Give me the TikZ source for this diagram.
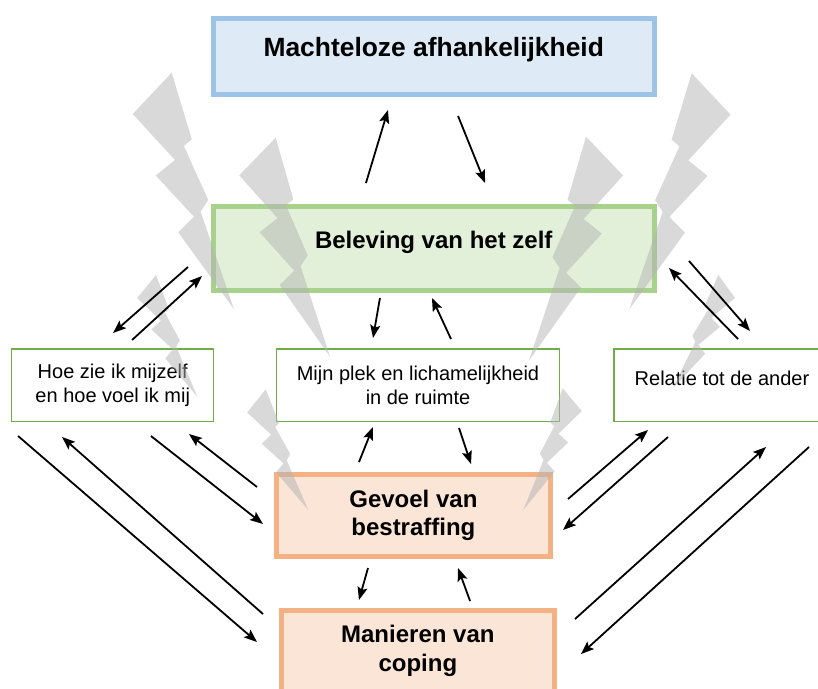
\documentclass[tikz,border=0pt]{standalone}
\usepackage{fontspec}
\setmainfont{Liberation Sans}
\usepackage{xcolor}
\usepackage{tikz}
\usetikzlibrary{arrows.meta}

\definecolor{topline}{HTML}{9DC3E6}
\definecolor{topfill}{HTML}{DEEBF7}
\definecolor{zelfline}{HTML}{A9D18E}
\definecolor{zelffill}{HTML}{E2F0D9}
\definecolor{aspectline}{HTML}{70AD47}
\definecolor{copeline}{HTML}{F4B183}
\definecolor{copefill}{HTML}{FBE5D6}
\definecolor{boltgray}{HTML}{B3B3B3}

\tikzset{
  pics/bolt/.style={code={
    \fill[boltgray, fill opacity=0.5] (0,0) -- (1,28.4) -- (-2.8,30.2) -- (1.2,54.1) -- (-3,57.9) -- (0,100)
      -- (-14,63.8) -- (-6.2,59.2) -- (-17,39) -- (-7.8,34.8) -- (-19.7,12.3) -- cycle;
  }}
}

\begin{document}
\begin{tikzpicture}[x=1pt, y=-1pt,
  bigbox/.style={rectangle, draw, line width=5pt, outer sep=0pt, align=center, font=\fontsize{24}{29}\selectfont\bfseries},
  smallbox/.style={rectangle, draw=aspectline, line width=1.3pt, fill=white, outer sep=0pt, align=center, minimum height=72.3pt, font=\fontsize{20}{24}\selectfont},
  arrow/.style={-{Stealth[length=13pt,width=10pt,inset=2.5pt]}, line width=1.8pt}
]
\useasboundingbox (0,0) rectangle (818,688);
\clip (0,0) rectangle (818,688);

% Top
\node[bigbox, draw=topline, fill=topfill, minimum width=441.5pt, minimum height=76.5pt, text height=18pt, text depth=18pt, font=\fontsize{26.4}{32}\selectfont\bfseries] (macht) at (433.75,56.25) {Machteloze afhankelijkheid};

% Self
\node[bigbox, draw=zelfline, fill=zelffill, minimum width=441.5pt, minimum height=84pt, text height=17pt, text depth=17pt] (beleving) at (433.75,248.3) {Beleving van het zelf};

% Aspects
\node[smallbox, minimum width=202pt] (zelfbeeld) at (112.75,385.15) {Hoe zie ik mijzelf\\en hoe voel ik mij};
\node[smallbox, minimum width=282.6pt] (plek) at (418,385.15) {Mijn plek en lichamelijkheid\\in de ruimte};
\node[smallbox, minimum width=216pt, text height=15pt, text depth=15pt] (relatie) at (722,385.15) {Relatie tot de ander};

% Punishment and coping
\node[bigbox, draw=copeline, fill=copefill, minimum width=274.2pt, minimum height=81.6pt, font=\fontsize{24}{28.5}\selectfont\bfseries] (bestraffing) at (413.4,515.5) {Gevoel van\\bestraffing};
\node[bigbox, draw=copeline, fill=copefill, minimum width=273.3pt, minimum height=81.7pt] (coping) at (417.85,651.15) {Manieren van\\coping};

% Lightning
\pic[rotate=14.75, scale=2.447] at (171.7,72.7) {bolt};
\pic[rotate=13.93, scale=2.256] at (275.7,137.7) {bolt};
\pic[rotate=18.74, scale=1.285] at (156,275) {bolt};
\pic[rotate=19.44, scale=1.28] at (265.7,389.3) {bolt};
\pic[rotate=-14.81, xscale=-1, scale=2.441] at (691.7,73.3) {bolt};
\pic[rotate=-14.3, xscale=-1, scale=2.31] at (586,136.7) {bolt};
\pic[rotate=-21.9, xscale=-1, scale=1.221] at (718.3,275) {bolt};
\pic[rotate=-17.94, xscale=-1, scale=1.279] at (562.7,388.3) {bolt};

% Connections
\draw[arrow] ([xshift=-67.8pt,yshift=23.3pt]beleving.north) -- ([xshift=-45.8pt,yshift=-15.5pt]macht.south);
\draw[arrow] ([xshift=24.3pt,yshift=-21.5pt]macht.south) -- ([xshift=51.3pt,yshift=23.3pt]beleving.north);
\draw[arrow] ([xshift=-25pt,yshift=-18.7pt]beleving.west) -- ([xshift=0.3pt,yshift=16pt]zelfbeeld.north);
\draw[arrow] ([xshift=19.3pt,yshift=9pt]zelfbeeld.north) -- ([xshift=-11pt,yshift=-27.7pt]beleving.west);
\draw[arrow] ([xshift=-53.8pt,yshift=-7.7pt]beleving.south) -- ([xshift=-45pt,yshift=11pt]plek.north);
\draw[arrow] ([xshift=33pt,yshift=10pt]plek.north) -- ([xshift=-1.8pt,yshift=-7.7pt]beleving.south);
\draw[arrow] ([xshift=16pt,yshift=10pt]relatie.north) -- ([xshift=14.5pt,yshift=-19.7pt]beleving.east);
\draw[arrow] ([xshift=34.5pt,yshift=-12.7pt]beleving.east) -- ([xshift=28pt,yshift=18pt]relatie.north);
\draw[arrow] ([xshift=6.3pt,yshift=-14.7pt]zelfbeeld.south west) -- ([xshift=-24.2pt,yshift=-31.7pt]coping.north west);
\draw[arrow] ([xshift=-18.2pt,yshift=-3.7pt]coping.north west) -- ([xshift=50.3pt,yshift=-15.7pt]zelfbeeld.south west);
\draw[arrow] ([xshift=-62.8pt,yshift=-14.7pt]zelfbeeld.south east) -- ([xshift=-13.3pt,yshift=-8.5pt]bestraffing.west);
\draw[arrow] ([xshift=-19.3pt,yshift=28.5pt]bestraffing.west) -- ([xshift=-24.8pt,yshift=-12.7pt]zelfbeeld.south east);
\draw[arrow] ([xshift=-54.4pt,yshift=12.7pt]bestraffing.north) -- ([xshift=-45pt,yshift=-5.7pt]plek.south);
\draw[arrow] ([xshift=41pt,yshift=-6.7pt]plek.south) -- ([xshift=57.6pt,yshift=10.7pt]bestraffing.north);
\draw[arrow] ([xshift=-45.4pt,yshift=-11.7pt]bestraffing.south) -- ([xshift=-58.9pt,yshift=10.3pt]coping.north);
\draw[arrow] ([xshift=52.2pt,yshift=9.3pt]coping.north) -- ([xshift=44.6pt,yshift=-11.7pt]bestraffing.south);
\draw[arrow] ([xshift=17.5pt,yshift=16.5pt]bestraffing.east) -- ([xshift=34pt,yshift=-8.7pt]relatie.south west);
\draw[arrow] ([xshift=54pt,yshift=-15.7pt]relatie.south west) -- ([xshift=12.5pt,yshift=-14.5pt]bestraffing.east);
\draw[arrow] ([xshift=20.5pt,yshift=-8.7pt]coping.north east) -- ([xshift=44pt,yshift=-25.7pt]relatie.south);
\draw[arrow] ([xshift=87pt,yshift=-25.7pt]relatie.south) -- ([xshift=26.5pt,yshift=-2.9pt]coping.east);
\end{tikzpicture}
\end{document}
